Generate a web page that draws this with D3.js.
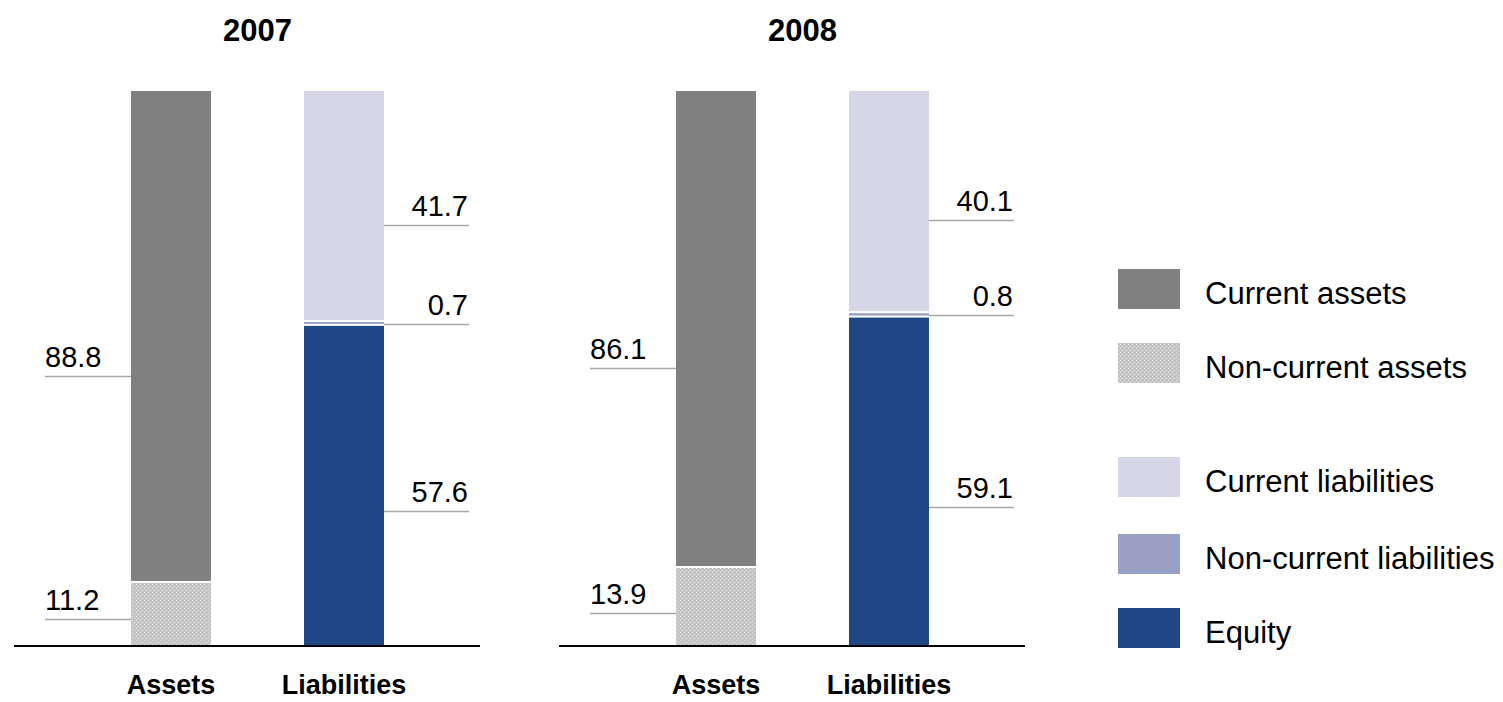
<!DOCTYPE html>
<html>
<head>
<meta charset="utf-8">
<script src="https://cdn.jsdelivr.net/npm/d3@7"></script>
<style>
  html, body { margin: 0; padding: 0; background: #fff; }
  svg { display: block; font-family: "Liberation Sans", Arial, sans-serif; }
</style>
</head>
<body>
<svg id="chart" width="1503" height="702"></svg>
<script>
// Balance sheet structure, % of total
const years = ["2007", "2008"];
const categories = ["Assets", "Liabilities"];
const assetSeries = ["Non-current assets", "Current assets"];           // bottom → top
const liabilitySeries = ["Equity", "Non-current liabilities", "Current liabilities"]; // bottom → top
const assets2007 = [11.2, 88.8];
const liabilities2007 = [57.6, 0.7, 41.7];
const assets2008 = [13.9, 86.1];
const liabilities2008 = [59.1, 0.8, 40.1];
const legendItems = ["Current assets", "Non-current assets", "Current liabilities", "Non-current liabilities", "Equity"];

const svg = d3.select("#chart");

// Texture for non-current assets
const defs = svg.append("defs");
const pat = defs.append("pattern")
  .attr("id", "dots").attr("patternUnits", "userSpaceOnUse")
  .attr("width", 4).attr("height", 4);
pat.append("rect").attr("width", 4).attr("height", 4).attr("fill", "#c6c6c6");
pat.append("rect").attr("x", 0).attr("y", 0).attr("width", 1).attr("height", 1).attr("fill", "#e2e2e2");
pat.append("rect").attr("x", 2).attr("y", 2).attr("width", 1).attr("height", 1).attr("fill", "#e2e2e2");
pat.append("rect").attr("x", 2).attr("y", 0).attr("width", 1).attr("height", 1).attr("fill", "#b8b8b8");

const color = d3.scaleOrdinal()
  .domain(legendItems)
  .range(["#808080", "url(#dots)", "#d6d6e6", "#9a9fc6", "#1f4785"]);

const y = d3.scaleLinear().domain([0, 100]).range([645, 91]);

const panels = [
  { year: years[0], x0: 14, x1: 480, assets: assets2007, liabilities: liabilities2007 },
  { year: years[1], x0: 559, x1: 1025, assets: assets2008, liabilities: liabilities2008 }
];

const gap = 2;
const labelFrac = 0.58; // leader line position within a segment, from its top

panels.forEach(p => {
  const g = svg.append("g");
  const x = d3.scaleBand().domain(categories)
    .range([p.x0 + 117, p.x0 + 370]).paddingInner(0.5376).paddingOuter(0);
  const bw = x.bandwidth();

  const stacks = [
    { cat: "Assets", names: assetSeries, values: p.assets, side: "left" },
    { cat: "Liabilities", names: liabilitySeries, values: p.liabilities, side: "right" }
  ];

  stacks.forEach(s => {
    let cum = 0;
    const segs = s.values.map((v, i) => {
      const seg = { name: s.names[i], value: v, start: cum, end: cum + v, idx: i };
      cum += v;
      return seg;
    });
    const bx = x(s.cat);
    g.selectAll(null).data(segs).enter().append("rect")
      .attr("x", bx)
      .attr("width", bw)
      .attr("y", d => y(d.end))
      .attr("height", d => Math.max(0.8, y(d.start) - y(d.end) - (d.idx > 0 ? gap : 0)))
      .attr("fill", d => color(d.name));

    // leader lines and value labels
    segs.forEach(d => {
      const top = y(d.end), bot = y(d.start);
      const ly = Math.round(d.value < 2 ? (top + bot) / 2 : top + (bot - top) * labelFrac) + 0.5;
      let lx0, lx1, tx, anchor;
      if (s.side === "left") {
        lx0 = bx - 86; lx1 = bx; tx = lx0; anchor = "start";
      } else {
        lx0 = bx + bw; lx1 = bx + bw + 85; tx = lx1 - 1; anchor = "end";
      }
      g.append("line").attr("x1", lx0).attr("x2", lx1).attr("y1", ly).attr("y2", ly)
        .attr("stroke", "#a8a8a8").attr("stroke-width", 1.6);
      g.append("text").attr("x", tx).attr("y", ly - 10)
        .attr("text-anchor", anchor).attr("font-size", 29).attr("fill", "#000")
        .text(d3.format(".1f")(d.value));
    });
  });

  // baseline
  g.append("line").attr("x1", p.x0).attr("x2", p.x1).attr("y1", 646).attr("y2", 646)
    .attr("stroke", "#000").attr("stroke-width", 2);

  // category labels
  g.selectAll(null).data(categories).enter().append("text")
    .attr("x", d => x(d) + bw / 2).attr("y", 694)
    .attr("text-anchor", "middle").attr("font-size", 27).attr("font-weight", "bold")
    .text(d => d);

  // year title
  g.append("text")
    .attr("x", (x("Assets") + x("Liabilities") + bw) / 2).attr("y", 41)
    .attr("text-anchor", "middle").attr("font-size", 31).attr("font-weight", "bold")
    .text(p.year);
});

// legend
const legendY = [269, 343, 457, 534, 608];
const lg = svg.append("g");
legendItems.forEach((name, i) => {
  lg.append("rect").attr("x", 1118).attr("y", legendY[i]).attr("width", 62).attr("height", 40)
    .attr("fill", color(name));
  lg.append("text").attr("x", 1205).attr("y", legendY[i] + 24).attr("dy", "0.36em")
    .attr("font-size", 31).text(name);
});
</script>
</body>
</html>
